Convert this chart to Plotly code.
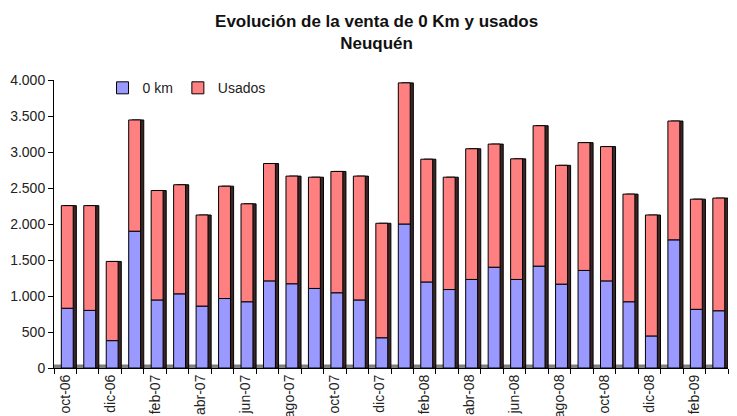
import plotly.graph_objects as go

months = ["oct-06", "nov-06", "dic-06", "ene-07", "feb-07", "mar-07", "abr-07", "may-07",
          "jun-07", "jul-07", "ago-07", "sep-07", "oct-07", "nov-07", "dic-07", "ene-08",
          "feb-08", "mar-08", "abr-08", "may-08", "jun-08", "jul-08", "ago-08", "sep-08",
          "oct-08", "nov-08", "dic-08", "ene-09", "feb-09", "mar-09"]
cero_km = [830, 800, 380, 1900, 945, 1030, 860, 965, 920, 1210, 1170, 1105, 1045, 945, 420,
           2000, 1195, 1090, 1230, 1400, 1230, 1415, 1165, 1355, 1210, 920, 445, 1780, 815, 795]
total = [2255, 2255, 1480, 3445, 2465, 2545, 2125, 2525, 2280, 2840, 2665, 2650, 2730, 2665, 2010,
         3960, 2900, 2650, 3045, 3110, 2905, 3365, 2815, 3130, 3075, 2415, 2125, 3430, 2345, 2360]
usados = [t - c for t, c in zip(total, cero_km)]
x_pos = list(range(len(months)))
label_idx = x_pos[::2]
label_txt = [months[i] for i in label_idx]

W = 0.53
off = -W / 2 + 0.09

fig = go.Figure()
fig.add_trace(go.Bar(x=x_pos, y=total, base=0, width=W, offset=off + 0.14,
                     marker=dict(color="#3a2626", line=dict(color="#000000", width=1)),
                     showlegend=False, hoverinfo="skip"))
fig.add_trace(go.Bar(x=x_pos, y=cero_km, base=0, width=W, offset=off, name="0 km",
                     marker=dict(color="#9999FF", line=dict(color="#000000", width=1))))
fig.add_trace(go.Bar(x=x_pos, y=usados, base=cero_km, width=W, offset=off, name="Usados",
                     marker=dict(color="#FF8080", line=dict(color="#000000", width=1))))

fig.update_layout(
    width=737, height=416,
    margin=dict(l=54, r=9, t=80, b=48),
    barmode="overlay",
    paper_bgcolor="white", plot_bgcolor="white",
    separators=",.",
    font=dict(family="Liberation Sans, Arial, sans-serif", size=14, color="#222222"),
    title=dict(text="<b>Evolución de la venta de 0 Km y usados<br>Neuquén</b>",
               x=0.511, xanchor="center", y=0.935, yanchor="top",
               font=dict(size=17, color="#111111")),
    legend=dict(orientation="h", x=0.072, xanchor="left", y=1.027, yanchor="top",
                font=dict(size=14, color="#222222"), bgcolor="rgba(0,0,0,0)",
                traceorder="normal"),
    shapes=[dict(type="line", xref="paper", yref="y", x0=0, x1=1, y0=20, y1=20,
                 line=dict(color="#808080", width=4), layer="below")],
)
fig.update_xaxes(range=[-0.5, 29.5], tickvals=label_idx, ticktext=label_txt, tickangle=-90,
                 ticks="", showgrid=False, zeroline=False, showline=True, linecolor="black",
                 linewidth=1, automargin=False, tickfont=dict(size=14),
                 minor=dict(ticks="outside", dtick=1, tick0=0.5, ticklen=5, tickcolor="black",
                            showgrid=False))
fig.update_yaxes(range=[0, 4000], dtick=500, tickformat=",d", ticks="outside", ticklen=5,
                 tickcolor="black", showgrid=False, zeroline=False, showline=True,
                 linecolor="black", linewidth=1, automargin=False, tickfont=dict(size=14))

fig.write_html("out.html", config={"displayModeBar": False},
               post_script="document.body.style.margin='0';document.body.style.padding='0';")
